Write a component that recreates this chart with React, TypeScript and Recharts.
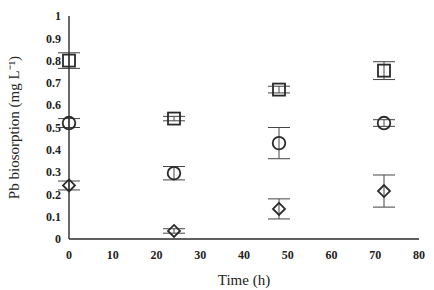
import React from "react";
import { ScatterChart, Scatter, XAxis, YAxis, ErrorBar } from "recharts";

const times = [0, 24, 48, 72];

const squareValues = [0.8, 0.54, 0.67, 0.755];
const squareErrors = [0.035, 0.01, 0.015, 0.04];

const circleValues = [0.52, 0.295, 0.43, 0.52];
const circleErrors = [0.02, 0.03, 0.07, 0.015];

const diamondValues = [0.24, 0.036, 0.135, 0.215];
const diamondErrors = [0.02, 0.01, 0.045, 0.072];

const xTicks = [0, 10, 20, 30, 40, 50, 60, 70, 80];
const yTicks = [0, 0.1, 0.2, 0.3, 0.4, 0.5, 0.6, 0.7, 0.8, 0.9, 1];

const toRows = (vals: number[], errs: number[]) =>
  times.map((t, i) => ({ x: t, y: vals[i], err: errs[i] }));

const ink = "#2a2a2a";
const font = "Liberation Serif";

function Square(p: any) {
  const s = 12;
  return <rect x={p.cx - s / 2} y={p.cy - s / 2} width={s} height={s} fill="none" stroke={ink} strokeWidth={1.8} />;
}

function Circle(p: any) {
  return <circle cx={p.cx} cy={p.cy} r={6.3} fill="none" stroke={ink} strokeWidth={1.8} />;
}

function Diamond(p: any) {
  const r = 6;
  const d = `M${p.cx},${p.cy - r}L${p.cx + r},${p.cy}L${p.cx},${p.cy + r}L${p.cx - r},${p.cy}Z`;
  return <path d={d} fill="none" stroke={ink} strokeWidth={1.8} />;
}

export default function App() {
  const tick = { fontSize: 12, fill: "#222", fontFamily: font, fontWeight: "bold" };
  return (
    <div style={{ position: "absolute", left: 0, top: 0, width: 434, height: 290, background: "#fff", fontFamily: font }}>
      <ScatterChart width={434} height={290} margin={{ top: 16, right: 15, left: 0, bottom: 21 }}>
        <XAxis
          type="number"
          dataKey="x"
          domain={[0, 80]}
          ticks={xTicks}
          tickLine={false}
          tickMargin={5}
          tick={tick}
          stroke={ink}
          strokeWidth={1.4}
          height={30}
          label={{ value: "Time (h)", position: "insideBottom", offset: -16, fontSize: 15, fill: "#222", fontFamily: font }}
        />
        <YAxis
          type="number"
          dataKey="y"
          domain={[0, 1]}
          ticks={yTicks}
          tickLine={false}
          tick={tick}
          stroke={ink}
          strokeWidth={1.4}
          width={69}
          label={{
            value: "Pb biosorption (mg L\u207B\u00B9)",
            angle: -90,
            position: "insideLeft",
            offset: 14,
            fontSize: 15,
            fill: "#222",
            fontFamily: font,
            style: { textAnchor: "middle" },
          }}
        />
        <Scatter data={toRows(squareValues, squareErrors)} shape={Square} isAnimationActive={false}>
          <ErrorBar dataKey="err" direction="y" width={11} stroke="#444" strokeWidth={1} />
        </Scatter>
        <Scatter data={toRows(circleValues, circleErrors)} shape={Circle} isAnimationActive={false}>
          <ErrorBar dataKey="err" direction="y" width={11} stroke="#444" strokeWidth={1} />
        </Scatter>
        <Scatter data={toRows(diamondValues, diamondErrors)} shape={Diamond} isAnimationActive={false}>
          <ErrorBar dataKey="err" direction="y" width={11} stroke="#444" strokeWidth={1} />
        </Scatter>
      </ScatterChart>
    </div>
  );
}
